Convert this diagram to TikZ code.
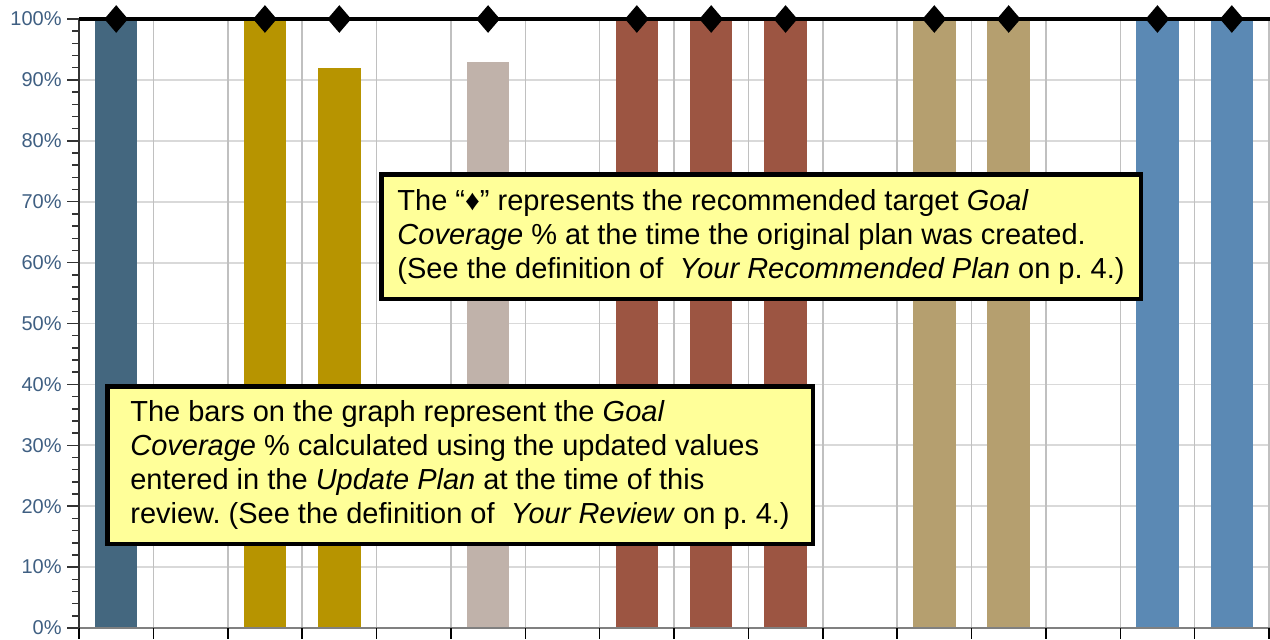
\documentclass[tikz,border=0pt]{standalone}
\usepackage{fontspec}
\setmainfont{Liberation Sans}
\usepackage{tikz}
\usetikzlibrary{shapes.geometric,positioning}
\definecolor{axis-label}{HTML}{3F5F82}
\definecolor{grid-h}{HTML}{D9D9D9}
\definecolor{grid-v}{HTML}{C0C0C0}
\definecolor{note-fill}{HTML}{FFFF99}
\definecolor{bar-slate}{HTML}{44677F}
\definecolor{bar-gold}{HTML}{B79400}
\definecolor{bar-taupe}{HTML}{C0B2AA}
\definecolor{bar-brick}{HTML}{9C5542}
\definecolor{bar-khaki}{HTML}{B59F6F}
\definecolor{bar-steel}{HTML}{5B89B4}
\frenchspacing

\begin{document}
\begin{tikzpicture}[x=0.5pt, y=-0.5pt,
    target/.style={diamond, fill=black, inner sep=0pt, minimum width=12pt, minimum height=14pt},
    note/.style={draw, line width=2.25pt, fill=note-fill, align=left, anchor=north west,
        inner sep=0pt, font=\fontsize{14.5pt}{17pt}\selectfont},
    ylabel/.style={anchor=east, text=axis-label, inner sep=0pt, font=\fontsize{10pt}{12pt}\selectfont}]
    \useasboundingbox (0,0) rectangle (1270,639);
    % grid
    \foreach \p in {10,20,...,90}
        \draw[grid-h, line width=0.9pt] (79,{628-6.09*\p}) -- (1270,{628-6.09*\p});
    \foreach \c in {1,...,16}
        \draw[grid-v, line width=0.75pt] ({79+74.375*\c},19) -- ({79+74.375*\c},628);
    % bars
    \foreach \c/\v/\col in {0/100/bar-slate, 2/100/bar-gold, 3/92/bar-gold, 5/93/bar-taupe,
            7/100/bar-brick, 8/100/bar-brick, 9/100/bar-brick, 11/100/bar-khaki,
            12/100/bar-khaki, 14/100/bar-steel, 15/100/bar-steel}
        \fill[\col] ({79+74.375*(\c+0.5)-21.3},628) rectangle ({79+74.375*(\c+0.5)+21.3},{628-6.09*\v});
    % axes
    \draw[gray, line width=0.9pt] (79,628) -- (1270,628);
    \foreach \c in {0,...,16}
        \draw[black, line width=0.75pt] ({79+74.375*\c},628) -- ({79+74.375*\c},639);
    \draw[black!80, line width=0.75pt] (79,19) -- (79,628);
    \foreach \p in {2,4,...,98}
        \draw[black!80, line width=0.75pt] (72,{628-6.09*\p}) -- (79,{628-6.09*\p});
    \foreach \p in {0,10,...,100} {
        \draw[black!80, line width=0.75pt] (67,{628-6.09*\p}) -- (79,{628-6.09*\p});
        \node[ylabel] (y\p) at (62,{628-6.09*\p}) {\p\%};
    }
    % target line
    \draw[line width=1.6pt] (79,19) -- (1270,19);
    \foreach \c in {0,2,3,5,7,8,9,11,12,14,15}
        \node[target] (t\c) at ({79+74.375*(\c+0.5)},19) {};
    % notes
    \node[note, minimum width=379.75pt, minimum height=62.25pt] (recommended) at (379,172)
        {The “♦” represents the recommended target \textit{Goal}\\
         \textit{Coverage} \% at the time the original plan was created.\\
         (See the definition of \ \textit{Your Recommended Plan} on p. 4.)};
    \node[note, minimum width=352.75pt, minimum height=78.75pt] (review) at (105,384)
        {The bars on the graph represent the \textit{Goal}\\
         \textit{Coverage} \% calculated using the updated values\\
         entered in the \textit{Update Plan} at the time of this\\
         review. (See the definition of \ \textit{Your Review} on p. 4.)};
\end{tikzpicture}
\end{document}
